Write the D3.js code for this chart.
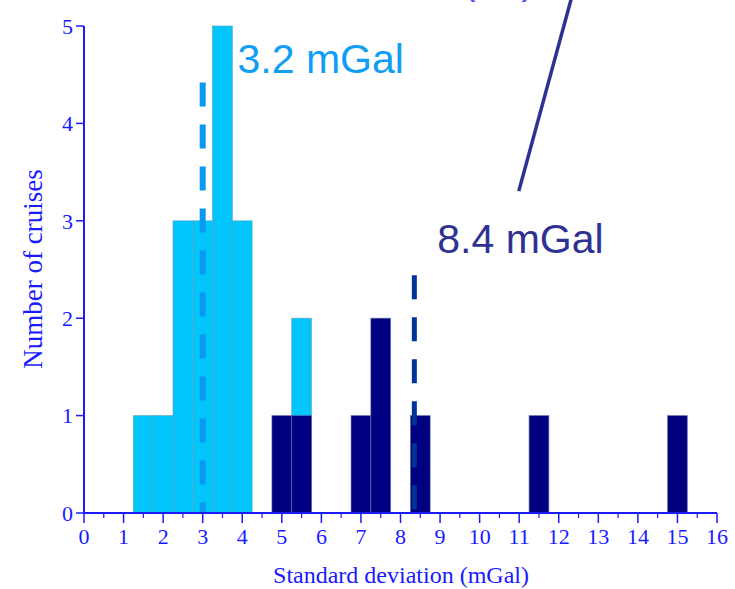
<!DOCTYPE html>
<html>
<head>
<meta charset="utf-8">
<script src="https://cdn.jsdelivr.net/npm/d3@7"></script>
<style>
  html, body { margin: 0; padding: 0; background: #fff; }
  svg { display: block; }
</style>
</head>
<body>
<svg id="chart" width="735" height="589"></svg>
<script>
// histogram bins (centre of each 0.5 mGal bin) and counts
const lightCenters = [1.5, 2, 2.5, 3, 3.5, 4, 5.5]
const lightCounts = [1, 1, 3, 3, 5, 3, 2]
const darkCenters = [5, 5.5, 7, 7.5, 8.5, 11.5, 15]
const darkCounts = [1, 1, 1, 2, 1, 1, 1]
const binWidth = 0.5

// dashed mean markers: [x, top]
const lightMean = [3.0, 4.42]
const darkMean = [8.35, 2.44]

const xTicks = d3.range(0, 17)
const xMinorTicks = d3.range(0.5, 16, 1)
const yTicks = [0, 1, 2, 3, 4, 5]

const lightBlue = '#00c6fc'
const navy = '#000080'
const axisBlue = '#1a1aff'
const serif = '"Liberation Serif", "DejaVu Serif", serif'
const sans = '"Liberation Sans", Arial, sans-serif'

const svg = d3.select('#chart')
const margin = { left: 84, top: 26, right: 18, bottom: 76 }
const width = +svg.attr('width')
const height = +svg.attr('height')

const x = d3.scaleLinear().domain([0, 16]).range([margin.left, width - margin.right])
const y = d3.scaleLinear().domain([0, 5]).range([height - margin.bottom, margin.top])

const lightData = lightCenters.map((c, i) => ({ c, n: lightCounts[i] }))
const darkData = darkCenters.map((c, i) => ({ c, n: darkCounts[i] }))

function drawBars (data, fill, stroke) {
  svg.append('g').selectAll('rect')
    .data(data)
    .join('rect')
    .attr('x', d => x(d.c - binWidth / 2))
    .attr('y', d => y(d.n))
    .attr('width', d => x(d.c + binWidth / 2) - x(d.c - binWidth / 2))
    .attr('height', d => y(0) - y(d.n))
    .attr('fill', fill)
    .attr('stroke', stroke)
    .attr('stroke-opacity', 0.75)
    .attr('stroke-width', 0.8)
}

// light first, dark drawn over it
drawBars(lightData, lightBlue, '#5f9fc0')
drawBars(darkData, navy, '#6070a8')

// dashed mean lines
svg.append('line')
  .attr('x1', x(lightMean[0])).attr('x2', x(lightMean[0]))
  .attr('y1', y(lightMean[1])).attr('y2', y(0))
  .attr('stroke', '#0a98f2')
  .attr('stroke-width', 6)
  .attr('stroke-dasharray', '24 18')

svg.append('line')
  .attr('x1', x(darkMean[0])).attr('x2', x(darkMean[0]))
  .attr('y1', y(darkMean[1])).attr('y2', y(0))
  .attr('stroke', '#003399')
  .attr('stroke-width', 5)
  .attr('stroke-dasharray', '24 18')

// x axis
const xAxis = svg.append('g')
  .attr('transform', `translate(0,${y(0)})`)
xAxis.append('line')
  .attr('x1', x(0)).attr('x2', x(16))
  .attr('stroke', axisBlue).attr('stroke-width', 2)
xAxis.selectAll('.major')
  .data(xTicks)
  .join('line')
  .attr('class', 'major')
  .attr('x1', d => x(d)).attr('x2', d => x(d))
  .attr('y1', 0).attr('y2', 10)
  .attr('stroke', axisBlue).attr('stroke-width', 1.5)
xAxis.selectAll('.minor')
  .data(xMinorTicks)
  .join('line')
  .attr('class', 'minor')
  .attr('x1', d => x(d)).attr('x2', d => x(d))
  .attr('y1', 0).attr('y2', 5)
  .attr('stroke', axisBlue).attr('stroke-width', 1.2)
xAxis.selectAll('text')
  .data(xTicks)
  .join('text')
  .attr('x', d => x(d))
  .attr('y', 31)
  .attr('text-anchor', 'middle')
  .attr('font-family', serif)
  .attr('font-size', 22)
  .attr('fill', axisBlue)
  .text(d => d)

// y axis
const yAxis = svg.append('g')
  .attr('transform', `translate(${x(0)},0)`)
yAxis.append('line')
  .attr('y1', y(0)).attr('y2', y(5))
  .attr('stroke', axisBlue).attr('stroke-width', 2)
yAxis.selectAll('.tick')
  .data(yTicks)
  .join('line')
  .attr('class', 'tick')
  .attr('x1', -8).attr('x2', 0)
  .attr('y1', d => y(d)).attr('y2', d => y(d))
  .attr('stroke', axisBlue).attr('stroke-width', 1.5)
yAxis.selectAll('text')
  .data(yTicks)
  .join('text')
  .attr('x', -11)
  .attr('y', d => y(d))
  .attr('dy', '0.35em')
  .attr('text-anchor', 'end')
  .attr('font-family', serif)
  .attr('font-size', 22)
  .attr('fill', axisBlue)
  .text(d => d)

// axis titles
svg.append('text')
  .attr('x', 401)
  .attr('y', 583)
  .attr('text-anchor', 'middle')
  .attr('font-family', serif)
  .attr('font-size', 24)
  .attr('fill', axisBlue)
  .text('Standard deviation (mGal)')

svg.append('text')
  .attr('transform', 'translate(42,269) rotate(-90)')
  .attr('text-anchor', 'middle')
  .attr('font-family', serif)
  .attr('font-size', 27)
  .attr('fill', axisBlue)
  .text('Number of cruises')

// annotations
svg.append('text')
  .attr('x', x(3.88))
  .attr('y', y(4.52))
  .attr('font-family', sans)
  .attr('font-size', 41)
  .attr('fill', '#109df4')
  .text('3.2 mGal')

svg.append('text')
  .attr('x', x(8.93))
  .attr('y', y(2.67))
  .attr('font-family', sans)
  .attr('font-size', 41)
  .attr('fill', '#2e3192')
  .text('8.4 mGal')

// pointer line from the label cut off above the picture
svg.append('line')
  .attr('x1', x(12.33)).attr('y1', y(5.3))
  .attr('x2', x(10.99)).attr('y2', y(3.305))
  .attr('stroke', '#2e3192')
  .attr('stroke-width', 3.5)

// only the bottoms of this label's brackets show at the top edge
svg.append('text')
  .attr('x', 462)
  .attr('y', -6)
  .attr('font-family', sans)
  .attr('font-size', 41)
  .attr('fill', '#5050ff')
  .text('(26)')
</script>
</body>
</html>
